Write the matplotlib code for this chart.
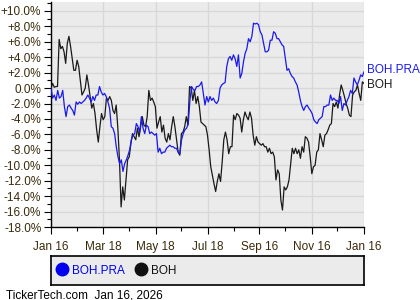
import matplotlib
matplotlib.use("Agg")
import matplotlib.pyplot as plt
from matplotlib.lines import Line2D
from matplotlib.ticker import MultipleLocator, FuncFormatter
import pandas as pd

plt.rcParams["font.family"] = ["Liberation Sans", "DejaVu Sans"]

# percent change since Jan 16
boh_pra = [0.0, -1.3, -0.9, -1.6, -0.3, -1.3, -1.1, -0.3, -2.4, -3.7, -2.4, -2.2, -2.6,
           -2.9, -3.5, -1.8, -2.1, -1.8, -2.0, -1.8, -1.6, -1.3, -0.9, -1.3, -1.8, -1.1,
           -1.6, -0.9, -0.9, 0.2, -0.5, -0.9, -0.7, -1.1, -1.8, -2.6, -5.0, -5.2, -5.9,
           -7.6, -8.9, -9.8, -9.3, -10.8, -9.8, -9.3,
           -8.7, -8.0, -6.7, -6.1, -5.9, -4.6, -5.0, -5.7, -3.7, -5.2, -5.9, -4.8, -5.0,
           -5.9, -5.7, -5.9, -6.1, -5.9, -8.3, -7.8, -8.5, -8.3, -8.3, -7.8, -7.6, -7.4,
           -7.6, -7.6, -7.8, -7.8, -8.3, -8.5, -6.7, -5.9, -5.4, -5.2, -4.6, -1.6, 0.2,
           -0.2, -0.3, 0.2, 0.2, 0.4, 0.8, -0.7,
           -2.2, -1.1, -1.8, -1.1, -1.6, -1.3, -1.8, -2.0, -1.6, 0.0, 0.4, 0.6, 0.7, 2.8,
           3.8, 4.1, 3.6, 4.3, 3.8, 2.8, 4.3, 1.3, 1.9, 3.4, 4.5, 5.1, 6.4, 6.0, 6.7, 8.4,
           8.3, 8.4, 8.2, 7.3, 6.9, 5.8, 4.7, 4.7, 4.9, 6.2, 6.2, 7.3, 7.1, 6.4, 6.4, 6.0,
           5.6, 5.4, 3.8, 2.3, 2.5, 1.9, 1.5, 1.3, 0.8, 0.4, -0.5, -1.6, -2.4, -2.9, -2.4,
           -2.2, -2.6, -2.9, -3.3, -4.1, -4.4, -4.6, -4.1, -3.9, -3.7, -2.4, -2.4, -2.2,
           -2.2, -0.9, -1.6, -1.3, -1.6, -1.6, -2.0, -1.1, -2.9, -2.0, -2.2, -1.6, -1.1,
           -0.3, -0.7, 1.3, 0.8, 0.4, 1.0, 1.7, 1.5, 2.1]

boh = [0.0, 0.6, 0.1, 0.2, 0.2, 6.3, 5.1, 5.4, 4.7, 3.2, 5.8, 6.7, 5.4, 3.8, 2.3, 2.3,
       3.6, 2.8, 1.0, -0.9, -0.5, 0.0, 1.7, 0.4, -1.1, -2.6, -2.0, -3.3, -5.4, -7.0,
       -5.0, -3.3, -4.1, -3.7, -1.3, -1.6, -1.1, -1.6, -2.9, -3.3, -2.2, -5.2, -9.3,
       -15.4, -12.8, -14.5, -11.9, -9.3,
       -8.9, -7.2, -5.9, -6.3, -6.7, -5.2, -6.3, -5.0, -3.7, -4.8, -5.0, -3.7, -0.3,
       -1.6, -1.3, -1.8, -2.4, -5.2, -4.4, -3.7, -5.7, -4.8, -6.5, -7.0, -5.9, -6.7,
       -5.0, -3.7, -5.0, -6.7, -8.3, -8.7, -5.9, -5.7, -5.0, -3.7, -4.8, 0.2, 0.0,
       -1.6, -0.3, -2.0, -1.1, -2.4, -4.4,
       -4.6, -4.8, -5.0, -6.1, -8.0, -10.2, -11.3, -12.4, -13.4, -12.1, -11.1, -12.1,
       -9.6, -6.7, -5.7, -6.7, -8.5, -7.6, -7.6, -3.5, -4.1, -3.3, -3.5, -3.9, -5.7,
       -4.1, -3.1, -3.7, -4.1, -3.1, -3.9, -6.1, -7.4, -6.3, -7.0, -7.2, -7.4, -7.2,
       -7.6, -7.6, -8.3, -7.8, -8.5, -8.3, -8.9, -11.9, -10.6,
       -11.1, -14.5, -15.8, -12.8, -13.2, -12.8, -11.9, -9.8, -7.8, -8.5, -7.8, -8.5,
       -8.0, -9.1, -7.6, -8.3, -6.3, -6.5, -7.0, -8.9, -11.1, -10.2, -10.0, -8.3, -8.0,
       -5.9, -6.7, -7.6, -6.1, -5.9, -5.4, -4.8, -4.6, -2.0, -2.4, -1.8, -2.6, -0.9,
       0.4, -0.3, -1.1, -2.0, -2.6, -3.5, -3.7, -0.9, -0.5, -0.3, 0.4, -0.7, -1.6,
       0.8, 0.6]

start, end = "2025-01-16", "2026-01-16"
tick_dates = ["2025-01-16", "2025-03-18", "2025-05-18", "2025-07-18",
              "2025-09-16", "2025-11-16", "2026-01-16"]
minor_dates = ["2025-02-15", "2025-04-17", "2025-06-17", "2025-08-17",
               "2025-10-16", "2025-12-16"]

pra_dates = pd.date_range(start, end, periods=len(boh_pra))
boh_dates = pd.date_range(start, end, periods=len(boh))

BLUE = "#1a1aee"
BLACK = "#1a1a1a"
TXT = "#3a2a0a"
BG = "#ebebeb"
FS = 8.5

fig = plt.figure(figsize=(4.2, 3.0), dpi=100)
ax = fig.add_axes([51 / 420, 1 - 227 / 300, 313 / 420, 225 / 300])
ax.set_facecolor(BG)

ax.plot(boh_dates, boh, color=BLACK, lw=0.9, zorder=3)
ax.plot(pra_dates, boh_pra, color=BLUE, lw=0.9, zorder=4)

ax.set_xlim(pd.Timestamp(start), pd.Timestamp(end))
ax.set_ylim(-18, 11.15)

ax.yaxis.set_major_locator(MultipleLocator(2))
ax.yaxis.set_minor_locator(MultipleLocator(1))
ax.yaxis.set_major_formatter(FuncFormatter(
    lambda v, p: f"+{v:.1f}%" if v > 0.05 else f"{v:.1f}%" if v < -0.05 else "0.0%"))

ax.set_xticks(pd.to_datetime(tick_dates))
ax.set_xticks(pd.to_datetime(minor_dates), minor=True)
ax.set_xticklabels([pd.Timestamp(d).strftime("%b %d").replace(" 0", " ") for d in tick_dates])

ax.grid(True, which="major", color="#d8d8d8", lw=1, zorder=0)
ax.set_axisbelow(True)
for s in ["top", "right"]:
    ax.spines[s].set_visible(False)
for s in ["left", "bottom"]:
    ax.spines[s].set_color("black")
    ax.spines[s].set_linewidth(1)

ax.tick_params(axis="both", which="major", length=5, width=0.8, colors="black",
               labelcolor=TXT, labelsize=FS)
ax.tick_params(axis="both", which="minor", length=3, width=0.8, colors="black")
ax.tick_params(axis="x", which="major", pad=5)
ax.tick_params(axis="y", which="major", pad=2)

# end-of-line labels
last_pra = boh_pra[-1]
last_boh = min(boh[-1], last_pra - 1.1)
ax.annotate("BOH.PRA", xy=(1.0, last_pra + 0.3), xycoords=("axes fraction", "data"),
            xytext=(2, 0), textcoords="offset points", color=BLUE, fontsize=FS,
            va="center", ha="left", annotation_clip=False)
ax.annotate("BOH", xy=(1.0, last_boh - 0.2), xycoords=("axes fraction", "data"),
            xytext=(2, 0), textcoords="offset points", color=BLACK, fontsize=FS,
            va="center", ha="left", annotation_clip=False)

# legend box under the chart
lax = fig.add_axes([51 / 420, 1 - 285 / 300, 313 / 420, 29 / 300])
lax.set_facecolor(BG)
lax.set_xticks([])
lax.set_yticks([])
for s in lax.spines.values():
    s.set_color("black")
    s.set_linewidth(1.2)
handles = [Line2D([], [], marker="o", ls="none", color="#0000ee", markersize=9),
           Line2D([], [], marker="o", ls="none", color="#111111", markersize=9)]
leg = lax.legend(handles, ["BOH.PRA", "BOH"], loc="center left", ncol=2, frameon=False,
                 handletextpad=0.35, columnspacing=0.9, handlelength=1.0,
                 borderaxespad=0.0, fontsize=FS)
leg.get_texts()[0].set_color("#0000ee")
leg.get_texts()[1].set_color("#111111")

fig.text(6 / 420, 1 - 295 / 300, "TickerTech.com  Jan 16, 2026", fontsize=8.5,
         color="black", va="center", ha="left")

fig.savefig("out.png", dpi=100)
